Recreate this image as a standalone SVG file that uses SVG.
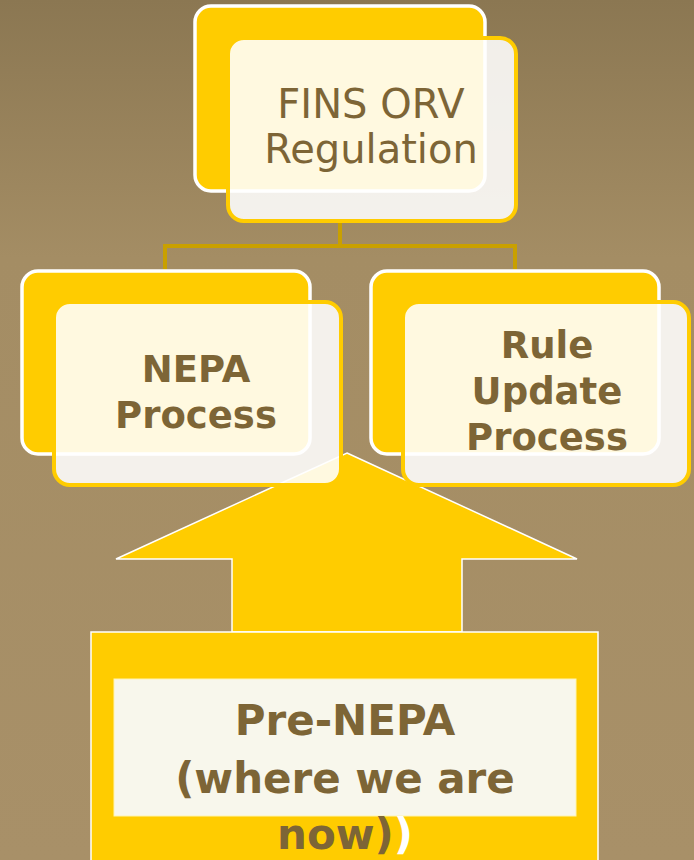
<svg xmlns="http://www.w3.org/2000/svg" width="694" height="860" viewBox="0 0 694 860">
<defs>
<linearGradient id="bg" x1="0" y1="0" x2="0" y2="1">
<stop offset="0" stop-color="#8b7752"/>
<stop offset="0.3" stop-color="#a48d64"/>
<stop offset="1" stop-color="#a89068"/>
</linearGradient>
<style>
.back{fill:#ffcc00;stroke:#ffffff;stroke-width:3.5}
.front{fill:#ffffff;fill-opacity:0.88;stroke:#ffcc00;stroke-width:4}
.conn{fill:none;stroke:#c9a000;stroke-width:4}
.reg{font-family:"DejaVu Sans",sans-serif;font-size:40px;fill:#7d6536;text-anchor:middle}
.bold{font-family:"DejaVu Sans",sans-serif;font-weight:bold;font-size:37px;fill:#7d6536;text-anchor:middle}
.big{font-family:"DejaVu Sans",sans-serif;font-weight:bold;font-size:42px;fill:#7d6536;text-anchor:middle}
</style>
</defs>
<rect x="0" y="0" width="694" height="860" fill="url(#bg)"/>
<g id="connectors">
<path class="conn" d="M340,222 V246 M165,272 V246 H515 V272"/>
</g>
<g id="arrow">
<polygon points="347,453 577,559 462,559 462,632 232,632 232,559 116,559" fill="#ffcc00" stroke="#ffffff" stroke-width="1.5"/>
</g>
<g id="node-fins">
<rect class="back" x="195" y="6" width="290" height="185" rx="16"/>
<rect class="front" x="228" y="38" width="288" height="183" rx="16"/>
<text class="reg" x="371" y="118">FINS ORV</text>
<text class="reg" x="371" y="163">Regulation</text>
</g>
<g id="node-nepa">
<rect class="back" x="22" y="271" width="288" height="183" rx="16"/>
<rect class="front" x="54" y="302" width="287" height="183" rx="16"/>
<text class="bold" x="196" y="382">NEPA</text>
<text class="bold" x="196" y="428">Process</text>
</g>
<g id="node-rule">
<rect class="back" x="371" y="271" width="288" height="183" rx="16"/>
<rect class="front" x="403" y="302" width="286" height="183" rx="16"/>
<text class="bold" x="547" y="358">Rule</text>
<text class="bold" x="547" y="404">Update</text>
<text class="bold" x="547" y="450">Process</text>
</g>
<g id="node-prenepa">
<rect x="91" y="632" width="507" height="240" fill="#ffcc00" stroke="#ffffff" stroke-width="1.5"/>
<rect x="114" y="679" width="462" height="137" fill="#f8f7ec" stroke="#fff4b0" stroke-width="1"/>
<text class="big" x="345" y="735">Pre-NEPA</text>
<text class="big" x="345" y="793">(where we are</text>
<text class="big" x="345" y="849">now)<tspan fill="#ffffff">)</tspan></text>
</g>
<text x="-3" y="876" font-family="DejaVu Sans,sans-serif" font-weight="bold" font-size="24" fill="#2e2410">o</text>
</svg>
